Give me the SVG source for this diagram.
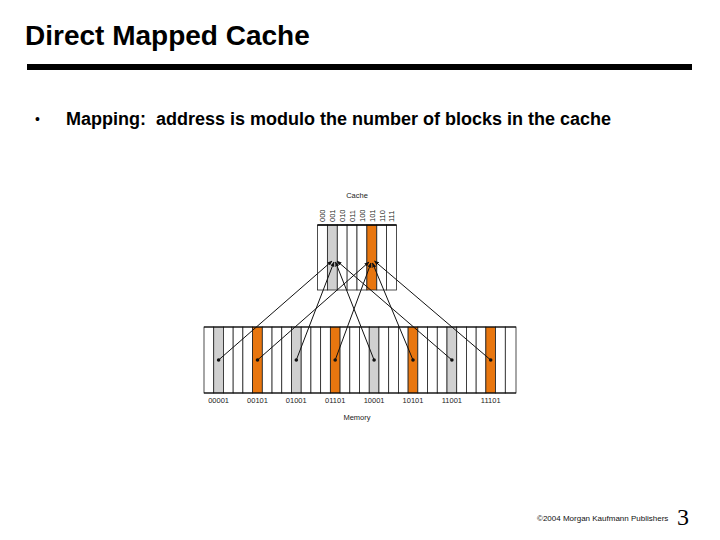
<svg xmlns="http://www.w3.org/2000/svg" width="720" height="540" viewBox="0 0 720 540">
<defs>
<style>
.t{font-family:"Liberation Sans",Arial,sans-serif}
.title{font-size:28px;font-weight:bold}
.bul{font-size:18px;font-weight:bold}
.sm{font-size:7.5px;fill:#222}
.col{fill:#fff;stroke:#222;stroke-width:0.8}
.g{fill:#d0d0d0}
.o{fill:#e8760f}
.ln{stroke:#111;stroke-width:1;fill:none;marker-end:url(#ah)}
</style>
<marker id="ah" viewBox="0 0 10 10" refX="9" refY="5" markerWidth="5" markerHeight="5" orient="auto" markerUnits="userSpaceOnUse">
<path d="M0,1 L10,5 L0,9 z" fill="#111"/>
</marker>
</defs>
<rect width="720" height="540" fill="#fff"/>
<g id="title">
<text class="t title" x="25" y="45">Direct Mapped Cache</text>
<rect x="27" y="64" width="665" height="6" fill="#000"/>
</g>
<g id="bullet">
<text class="t" x="35" y="124" font-size="14">•</text>
<text class="t bul" x="66" y="125" xml:space="preserve">Mapping:  address is modulo the number of blocks in the cache</text>
</g>
<g id="cache">
<text class="t sm" x="357" y="198" text-anchor="middle">Cache</text>
<rect class="col" x="317.5" y="225" width="9.875" height="65"/>
<rect class="col g" x="327.4" y="225" width="9.875" height="65"/>
<rect class="col" x="337.3" y="225" width="9.875" height="65"/>
<rect class="col" x="347.1" y="225" width="9.875" height="65"/>
<rect class="col" x="357" y="225" width="9.875" height="65"/>
<rect class="col o" x="366.9" y="225" width="9.875" height="65"/>
<rect class="col" x="376.8" y="225" width="9.875" height="65"/>
<rect class="col" x="386.6" y="225" width="9.875" height="65"/>
<line x1="317.5" y1="225" x2="396.5" y2="225" stroke="#000" stroke-width="1.5"/>
<g class="t sm">
<text transform="translate(325.2,222) rotate(-90)">000</text>
<text transform="translate(335.1,222) rotate(-90)">001</text>
<text transform="translate(345,222) rotate(-90)">010</text>
<text transform="translate(354.8,222) rotate(-90)">011</text>
<text transform="translate(364.7,222) rotate(-90)">100</text>
<text transform="translate(374.6,222) rotate(-90)">101</text>
<text transform="translate(384.5,222) rotate(-90)">110</text>
<text transform="translate(394.3,222) rotate(-90)">111</text>
</g>
</g>
<g id="memory">
<g>
<rect class="col" x="204" y="327" width="9.72" height="66"/>
<rect class="col g" x="213.72" y="327" width="9.72" height="66"/>
<rect class="col" x="223.44" y="327" width="9.72" height="66"/>
<rect class="col" x="233.16" y="327" width="9.72" height="66"/>
<rect class="col" x="242.88" y="327" width="9.72" height="66"/>
<rect class="col o" x="252.6" y="327" width="9.72" height="66"/>
<rect class="col" x="262.32" y="327" width="9.72" height="66"/>
<rect class="col" x="272.04" y="327" width="9.72" height="66"/>
<rect class="col" x="281.76" y="327" width="9.72" height="66"/>
<rect class="col g" x="291.48" y="327" width="9.72" height="66"/>
<rect class="col" x="301.2" y="327" width="9.72" height="66"/>
<rect class="col" x="310.92" y="327" width="9.72" height="66"/>
<rect class="col" x="320.64" y="327" width="9.72" height="66"/>
<rect class="col o" x="330.36" y="327" width="9.72" height="66"/>
<rect class="col" x="340.08" y="327" width="9.72" height="66"/>
<rect class="col" x="349.8" y="327" width="9.72" height="66"/>
<rect class="col" x="359.52" y="327" width="9.72" height="66"/>
<rect class="col g" x="369.24" y="327" width="9.72" height="66"/>
<rect class="col" x="378.96" y="327" width="9.72" height="66"/>
<rect class="col" x="388.68" y="327" width="9.72" height="66"/>
<rect class="col" x="398.4" y="327" width="9.72" height="66"/>
<rect class="col o" x="408.12" y="327" width="9.72" height="66"/>
<rect class="col" x="417.84" y="327" width="9.72" height="66"/>
<rect class="col" x="427.56" y="327" width="9.72" height="66"/>
<rect class="col" x="437.28" y="327" width="9.72" height="66"/>
<rect class="col g" x="447" y="327" width="9.72" height="66"/>
<rect class="col" x="456.72" y="327" width="9.72" height="66"/>
<rect class="col" x="466.44" y="327" width="9.72" height="66"/>
<rect class="col" x="476.16" y="327" width="9.72" height="66"/>
<rect class="col o" x="485.88" y="327" width="9.72" height="66"/>
<rect class="col" x="495.6" y="327" width="9.72" height="66"/>
<rect class="col" x="505.32" y="327" width="10.68" height="66"/>
<line x1="204" y1="327" x2="516" y2="327" stroke="#000" stroke-width="1.2"/>
<line x1="204" y1="393" x2="516" y2="393" stroke="#000" stroke-width="1.2"/>
</g>
<g class="t sm" text-anchor="middle">
<text x="218.6" y="403">00001</text>
<text x="257.5" y="403">00101</text>
<text x="296.3" y="403">01001</text>
<text x="335.2" y="403">01101</text>
<text x="374.1" y="403">10001</text>
<text x="413" y="403">10101</text>
<text x="451.9" y="403">11001</text>
<text x="490.7" y="403">11101</text>
<text x="357" y="420">Memory</text>
</g>
<g fill="#111">
<circle cx="218.6" cy="360" r="1.8"/>
<circle cx="257.5" cy="360" r="1.8"/>
<circle cx="296.3" cy="360" r="1.8"/>
<circle cx="335.2" cy="360" r="1.8"/>
<circle cx="374.1" cy="360" r="1.8"/>
<circle cx="413" cy="360" r="1.8"/>
<circle cx="451.9" cy="360" r="1.8"/>
<circle cx="490.7" cy="360" r="1.8"/>
</g>
</g>
<g id="connectors">
<line class="ln" x1="218.6" y1="360" x2="332" y2="261"/>
<line class="ln" x1="296.3" y1="360" x2="334" y2="262"/>
<line class="ln" x1="374.1" y1="360" x2="335.5" y2="262"/>
<line class="ln" x1="451.9" y1="360" x2="337" y2="261"/>
<line class="ln" x1="257.5" y1="360" x2="369" y2="262"/>
<line class="ln" x1="335.2" y1="360" x2="371" y2="263"/>
<line class="ln" x1="413" y1="360" x2="372.5" y2="263"/>
<line class="ln" x1="490.7" y1="360" x2="374.5" y2="261"/>
</g>
<g id="footer">
<text class="t" x="537" y="521" font-size="8" fill="#111">©2004 Morgan Kaufmann Publishers</text>
<text x="677" y="525" font-family="'Liberation Serif',serif" font-size="24">3</text>
</g>
</svg>
